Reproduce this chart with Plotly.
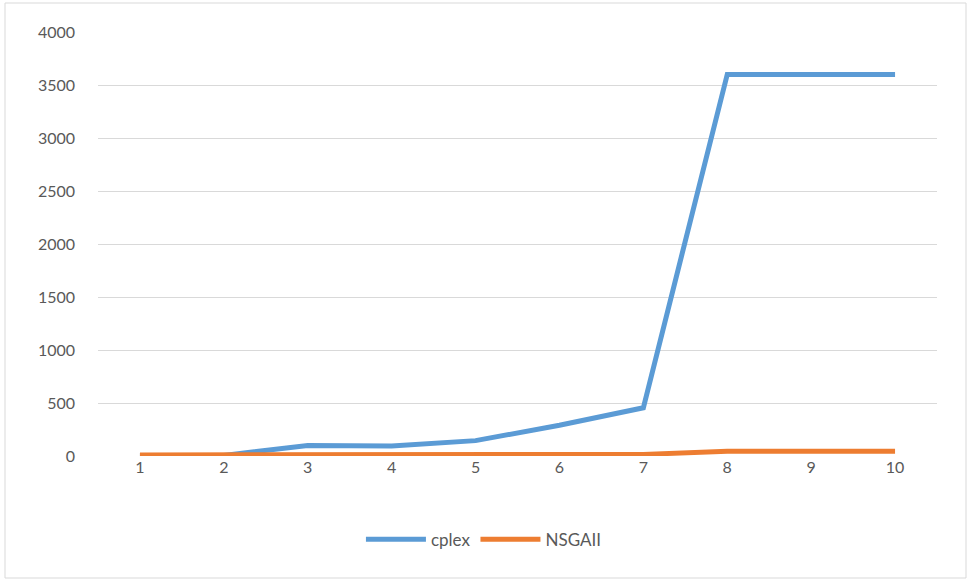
import plotly.graph_objects as go

categories = ["1", "2", "3", "4", "5", "6", "7", "8", "9", "10"]
cplex = [2, 5, 100, 95, 145, 290, 455, 3600, 3600, 3600]
nsgaii = [10, 12, 15, 15, 15, 15, 15, 45, 45, 45]
y_ticks = [0, 500, 1000, 1500, 2000, 2500, 3000, 3500, 4000]

W, H = 969, 580
fig = go.Figure()
fig.add_trace(go.Scatter(x=categories, y=cplex, mode="lines", name="cplex",
                         line=dict(color="#5B9BD5", width=5)))
fig.add_trace(go.Scatter(x=categories, y=nsgaii, mode="lines", name="NSGAII",
                         line=dict(color="#ED7D31", width=5)))

font = dict(family="Lato, 'Open Sans', sans-serif", size=16, color="#595959")
fig.update_layout(
    width=W, height=H,
    margin=dict(l=98, r=32, t=32, b=124),
    paper_bgcolor="white", plot_bgcolor="white",
    font=font,
    showlegend=True,
    legend=dict(orientation="h", x=0.46, xanchor="center", y=-0.155, yanchor="top",
                font=dict(family="Lato, 'Open Sans', sans-serif", size=17, color="#595959"),
                itemwidth=60, traceorder="normal"),
    xaxis=dict(type="category", range=[-0.5, 9.5], showgrid=False, zeroline=False,
               showline=False, ticks="", tickfont=font, ticklabelstandoff=0),
    yaxis=dict(range=[0, 4000], tickvals=y_ticks, showgrid=True, gridcolor="#D9D9D9",
               gridwidth=1, zeroline=False, showline=False, ticks="", tickfont=font,
               ticklabelstandoff=22),
    shapes=[dict(type="rect", xref="paper", yref="paper",
                 x0=-93/839, x1=(966-98)/839, y0=-(578-456)/424, y1=(456-3)/424,
                 line=dict(color="#D9D9D9", width=1), fillcolor="rgba(0,0,0,0)",
                 layer="below")],
)
fig.write_html("out.html")
